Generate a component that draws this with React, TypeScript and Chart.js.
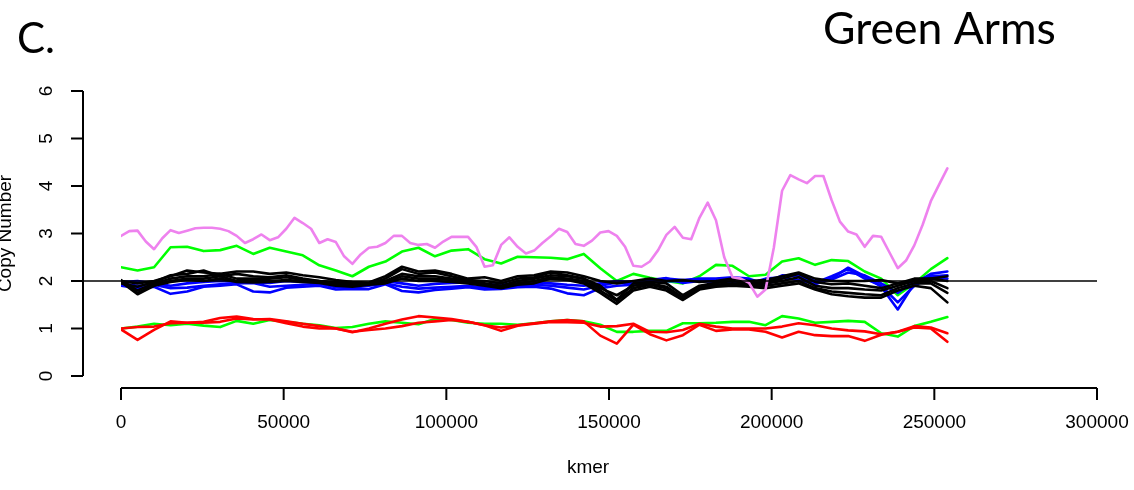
import React, { useEffect, useRef } from "react";
import { Chart, registerables } from "chart.js";

Chart.register(...registerables);

// kmer positions of the sampled points (coarse grid for most series)
const kmer = [
  0, 5080, 10160, 15240, 20320, 25400, 30480, 35560, 40640, 45720, 50800, 55880, 60960,
  66040, 71120, 76200, 81280, 86360, 91440, 96520, 101600, 106680, 111760, 116840, 121920,
  127000, 132080, 137160, 142240, 147320, 152400, 157480, 162560, 167640, 172720, 177800,
  182880, 187960, 193040, 198120, 203200, 208280, 213360, 218440, 223520, 228600, 233680,
  238760, 243840, 248920, 254000,
];

// finer grid for the violet series
const kmerFine = [
  0, 2540, 5080, 7620, 10160, 12700, 15240, 17780, 20320, 22860, 25400, 27940, 30480, 33020,
  35560, 38100, 40640, 43180, 45720, 48260, 50800, 53340, 55880, 58420, 60960, 63500, 66040,
  68580, 71120, 73660, 76200, 78740, 81280, 83820, 86360, 88900, 91440, 93980, 96520, 99060,
  101600, 104140, 106680, 109220, 111760, 114300, 116840, 119380, 121920, 124460, 127000,
  129540, 132080, 134620, 137160, 139700, 142240, 144780, 147320, 149860, 152400, 154940,
  157480, 160020, 162560, 165100, 167640, 170180, 172720, 175260, 177800, 180340, 182880,
  185420, 187960, 190500, 193040, 195580, 198120, 200660, 203200, 205740, 208280, 210820,
  213360, 215900, 218440, 220980, 223520, 226060, 228600, 231140, 233680, 236220, 238760,
  241300, 243840, 246380, 248920, 251460, 254000,
];

const xTicks = [0, 50000, 100000, 150000, 200000, 250000, 300000];
const yTicks = [0, 1, 2, 3, 4, 5, 6];
const refLine = 2;

const pink = [
  2.95, 3.05, 3.06, 2.83, 2.67, 2.9, 3.07, 3.01, 3.06, 3.11, 3.12, 3.12, 3.1, 3.05, 2.95, 2.8,
  2.88, 2.98, 2.86, 2.92, 3.1, 3.33, 3.22, 3.1, 2.8, 2.88, 2.82, 2.52, 2.36, 2.56, 2.7, 2.72,
  2.8, 2.95, 2.95, 2.8, 2.76, 2.78, 2.7, 2.83, 2.93, 2.93, 2.93, 2.72, 2.3, 2.33, 2.76, 2.92,
  2.72, 2.58, 2.64, 2.8, 2.94, 3.1, 3.03, 2.78, 2.74, 2.85, 3.02, 3.05, 2.95, 2.72, 2.32, 2.3,
  2.41, 2.65, 2.97, 3.14, 2.91, 2.88, 3.33, 3.65, 3.28, 2.5, 2.08, 2.05, 1.96, 1.67, 1.82, 2.7,
  3.9, 4.23, 4.14, 4.06, 4.21, 4.21, 3.7, 3.25, 3.04, 2.98, 2.72, 2.95, 2.93, 2.6, 2.27, 2.43,
  2.75, 3.18, 3.68, 4.03, 4.37,
];

const greenHigh = [2.29, 2.22, 2.29, 2.71, 2.72, 2.63, 2.65, 2.74, 2.57, 2.7, 2.62, 2.54, 2.33, 2.22, 2.1, 2.3, 2.41, 2.62, 2.7, 2.52, 2.64, 2.67, 2.46, 2.37, 2.51, 2.5, 2.49, 2.46, 2.57, 2.27, 2.0, 2.15, 2.07, 2.0, 1.95, 2.1, 2.34, 2.32, 2.1, 2.13, 2.41, 2.48, 2.34, 2.44, 2.42, 2.2, 2.05, 1.7, 1.95, 2.25, 2.48];

const greenLow = [1.0, 1.04, 1.1, 1.07, 1.1, 1.06, 1.03, 1.16, 1.1, 1.18, 1.14, 1.1, 1.07, 1.01, 1.03, 1.1, 1.15, 1.12, 1.09, 1.2, 1.18, 1.12, 1.1, 1.1, 1.08, 1.11, 1.15, 1.18, 1.15, 1.08, 0.93, 0.93, 0.95, 0.95, 1.11, 1.11, 1.12, 1.14, 1.14, 1.07, 1.26, 1.21, 1.12, 1.14, 1.16, 1.14, 0.9, 0.83, 1.05, 1.14, 1.24];

const redA = [0.98, 0.76, 0.97, 1.15, 1.12, 1.14, 1.22, 1.25, 1.2, 1.19, 1.11, 1.04, 1.0, 1.0, 0.92, 1.0, 1.1, 1.19, 1.26, 1.23, 1.2, 1.14, 1.07, 1.02, 1.07, 1.11, 1.15, 1.18, 1.15, 0.85, 0.68, 1.08, 0.88, 0.75, 0.86, 1.08, 0.95, 0.98, 0.98, 0.93, 0.81, 0.93, 0.86, 0.84, 0.84, 0.74, 0.87, 0.93, 1.02, 1.0, 0.72];

const redB = [1.0, 1.03, 1.04, 1.11, 1.12, 1.12, 1.14, 1.21, 1.19, 1.2, 1.15, 1.1, 1.05, 1.0, 0.93, 0.97, 1.0, 1.05, 1.12, 1.15, 1.18, 1.14, 1.07, 0.95, 1.06, 1.1, 1.14, 1.13, 1.12, 1.04, 1.05, 1.1, 0.93, 0.92, 0.97, 1.1, 1.04, 1.0, 1.0, 1.0, 1.04, 1.11, 1.07, 1.0, 0.96, 0.94, 0.88, 0.93, 1.05, 1.02, 0.9];

const blue1 = [1.9, 1.85, 1.88, 1.73, 1.78, 1.88, 1.9, 1.93, 1.78, 1.76, 1.86, 1.88, 1.9, 1.82, 1.83, 1.83, 1.93, 1.79, 1.76, 1.81, 1.84, 1.87, 1.82, 1.83, 1.87, 1.88, 1.84, 1.74, 1.7, 1.85, 1.9, 1.92, 2.02, 2.06, 1.96, 2.0, 1.98, 1.96, 1.95, 2.05, 2.08, 2.02, 1.93, 2.05, 2.28, 2.1, 1.88, 1.4, 1.95, 2.15, 2.2];

const blue2 = [1.95, 1.9, 1.92, 1.85, 1.86, 1.9, 1.93, 1.95, 1.96, 1.88, 1.9, 1.92, 1.94, 1.87, 1.86, 1.9, 1.95, 1.88, 1.84, 1.86, 1.88, 1.9, 1.86, 1.86, 1.9, 1.92, 1.9, 1.86, 1.82, 1.9, 1.97, 1.96, 1.98, 2.0, 1.99, 2.02, 2.0, 2.05, 2.0, 1.95, 2.12, 2.1, 1.96, 2.1, 2.25, 2.05, 1.9, 1.55, 1.9, 2.08, 2.05];

const blue3 = [1.98, 2.0, 1.95, 1.9, 1.95, 1.98, 2.0, 1.98, 1.97, 1.96, 2.0, 1.98, 1.99, 1.95, 1.93, 1.95, 2.0, 1.95, 1.9, 1.94, 1.96, 1.97, 1.92, 1.93, 1.96, 1.97, 1.95, 1.92, 1.9, 1.95, 2.0, 1.98, 2.0, 2.05, 2.02, 2.05, 2.05, 2.08, 2.05, 1.93, 2.05, 2.15, 2.0, 2.03, 2.18, 2.12, 1.95, 1.75, 2.0, 2.1, 2.12];

const black1 = [2.0, 1.95, 2.0, 2.1, 2.22, 2.18, 2.15, 2.2, 2.2, 2.15, 2.18, 2.12, 2.08, 2.02, 1.98, 1.97, 2.1, 2.3, 2.2, 2.22, 2.15, 2.05, 2.08, 2.0, 2.1, 2.12, 2.2, 2.18, 2.1, 2.0, 1.95, 2.0, 2.05, 2.0, 2.02, 1.98, 2.0, 2.05, 2.0, 2.02, 2.1, 2.18, 2.05, 2.0, 2.0, 2.0, 2.02, 1.95, 2.05, 2.05, 2.1];
const black2 = [1.95, 1.88, 1.98, 2.12, 2.15, 2.22, 2.1, 2.15, 2.1, 2.08, 2.12, 2.05, 2.0, 1.98, 1.95, 1.93, 2.05, 2.25, 2.15, 2.18, 2.1, 2.02, 2.0, 1.95, 2.05, 2.08, 2.18, 2.12, 2.05, 1.9, 1.6, 1.95, 1.98, 1.95, 1.7, 1.9, 1.96, 2.0, 1.95, 1.98, 2.05, 2.15, 1.98, 1.93, 1.95, 1.9, 1.85, 1.95, 2.0, 2.05, 2.0];
const black3 = [2.02, 1.8, 1.95, 2.05, 2.1, 2.1, 2.15, 2.05, 2.05, 2.05, 2.08, 2.02, 2.0, 1.95, 1.92, 1.95, 2.0, 2.15, 2.1, 2.1, 2.05, 2.0, 1.95, 1.9, 2.0, 2.05, 2.12, 2.1, 2.05, 1.85, 1.7, 1.9, 1.95, 1.88, 1.65, 1.88, 1.92, 1.95, 1.92, 1.95, 2.0, 2.08, 1.9, 1.85, 1.85, 1.82, 1.8, 1.9, 2.0, 2.0, 1.85];
const black4 = [2.0, 1.75, 1.92, 2.0, 2.05, 2.05, 2.1, 2.0, 2.0, 2.0, 2.02, 2.0, 1.98, 1.92, 1.9, 1.93, 1.97, 2.1, 2.05, 2.05, 2.02, 1.98, 1.92, 1.88, 1.95, 2.0, 2.08, 2.05, 2.0, 1.8, 1.58, 1.85, 1.92, 1.85, 1.62, 1.85, 1.9, 1.92, 1.9, 1.9, 1.95, 2.0, 1.85, 1.78, 1.75, 1.72, 1.7, 1.85, 1.95, 1.95, 1.75];
const black5 = [1.98, 1.72, 1.9, 1.98, 2.02, 2.0, 2.05, 1.98, 1.97, 1.98, 2.0, 1.98, 1.96, 1.9, 1.88, 1.92, 1.95, 2.05, 2.0, 2.0, 1.98, 1.95, 1.9, 1.85, 1.92, 1.95, 2.05, 2.02, 1.95, 1.75, 1.52, 1.8, 1.88, 1.8, 1.6, 1.82, 1.88, 1.9, 1.88, 1.85, 1.9, 1.95, 1.82, 1.72, 1.68, 1.65, 1.65, 1.8, 1.9, 1.85, 1.55];

const seriesList: { values: number[]; xs: number[]; color: string }[] = [
  { values: pink, xs: kmerFine, color: "#EE82EE" },
  { values: redA, xs: kmer, color: "#FF0000" },
  { values: redB, xs: kmer, color: "#FF0000" },
  { values: black1, xs: kmer, color: "#000000" },
  { values: black2, xs: kmer, color: "#000000" },
  { values: black3, xs: kmer, color: "#000000" },
  { values: black4, xs: kmer, color: "#000000" },
  { values: black5, xs: kmer, color: "#000000" },
  { values: blue1, xs: kmer, color: "#0000FF" },
  { values: blue2, xs: kmer, color: "#0000FF" },
  { values: blue3, xs: kmer, color: "#0000FF" },
  { values: greenHigh, xs: kmer, color: "#00FF00" },
  { values: greenLow, xs: kmer, color: "#00FF00" },
];

const AXIS_FONT = '19px "Liberation Sans", Arial, sans-serif';

const rAxes = {
  id: "rAxes",
  afterDatasetsDraw(chart: any) {
    const { ctx } = chart;
    const xs = chart.scales.x;
    const ys = chart.scales.y;
    const x0 = xs.getPixelForValue(xTicks[0]);
    const x1 = xs.getPixelForValue(xTicks[xTicks.length - 1]);
    const y0 = ys.getPixelForValue(yTicks[0]);
    const y1 = ys.getPixelForValue(yTicks[yTicks.length - 1]);
    const axisXpos = x0 - 38;
    const axisYpos = y0 + 12;
    ctx.save();
    ctx.strokeStyle = "#000";
    ctx.fillStyle = "#000";
    ctx.lineWidth = 1.6;
    ctx.lineCap = "butt";

    // reference line
    const yr = ys.getPixelForValue(refLine);
    ctx.beginPath();
    ctx.moveTo(axisXpos, yr);
    ctx.lineTo(x1, yr);
    ctx.stroke();

    // y axis
    ctx.lineWidth = 2;
    ctx.beginPath();
    ctx.moveTo(axisXpos, y0);
    ctx.lineTo(axisXpos, y1);
    ctx.stroke();
    ctx.font = AXIS_FONT;
    ctx.textAlign = "center";
    ctx.textBaseline = "middle";
    yTicks.forEach((t) => {
      const py = ys.getPixelForValue(t);
      ctx.beginPath();
      ctx.moveTo(axisXpos, py);
      ctx.lineTo(axisXpos - 12, py);
      ctx.stroke();
      ctx.save();
      ctx.translate(axisXpos - 36, py);
      ctx.rotate(-Math.PI / 2);
      ctx.fillText(String(t), 0, 0);
      ctx.restore();
    });

    // x axis
    ctx.beginPath();
    ctx.moveTo(x0, axisYpos);
    ctx.lineTo(x1, axisYpos);
    ctx.stroke();
    xTicks.forEach((t) => {
      const px = xs.getPixelForValue(t);
      ctx.beginPath();
      ctx.moveTo(px, axisYpos);
      ctx.lineTo(px, axisYpos + 12);
      ctx.stroke();
      ctx.fillText(String(t), px, axisYpos + 35);
    });

    // axis titles
    ctx.fillText("kmer", 588, 468);
    ctx.save();
    ctx.translate(11, (y0 + y1) / 2);
    ctx.rotate(-Math.PI / 2);
    ctx.textBaseline = "alphabetic";
    ctx.fillText("Copy Number", 0, 0);
    ctx.restore();

    // panel titles
    ctx.textAlign = "left";
    ctx.textBaseline = "alphabetic";
    ctx.font = '42px Lato, "Open Sans", sans-serif';
    ctx.fillText("C.", 17, 53);
    ctx.font = '44.5px Lato, "Open Sans", sans-serif';
    ctx.fillText("Green Arms", 823, 44);
    ctx.restore();
  },
};

export default function App() {
  const ref = useRef<HTMLCanvasElement>(null);
  useEffect(() => {
    if (!ref.current) return;
    const chart = new Chart(ref.current, {
      type: "line",
      data: {
        datasets: seriesList.map((s, i) => ({
          label: "s" + i,
          data: s.values.map((v, j) => ({ x: s.xs[j], y: v })),
          borderColor: s.color,
          backgroundColor: s.color,
          borderWidth: 2.6,
          pointRadius: 0,
          tension: 0,
          fill: false,
          borderJoinStyle: "round" as const,
          borderCapStyle: "round" as const,
        })),
      },
      options: {
        responsive: false,
        animation: false,
        layout: { padding: { left: 121, right: 37, top: 91, bottom: 114 } },
        scales: {
          x: { type: "linear", min: 0, max: 300000, display: false },
          y: { type: "linear", min: 0, max: 6, display: false },
        },
        plugins: { legend: { display: false }, tooltip: { enabled: false } },
      },
      plugins: [rAxes],
    });
    return () => chart.destroy();
  }, []);
  return (
    <div style={{ position: "absolute", left: 0, top: 0, width: 1134, height: 490, background: "#fff" }}>
      <canvas ref={ref} width={1134} height={490} style={{ display: "block" }} />
    </div>
  );
}
